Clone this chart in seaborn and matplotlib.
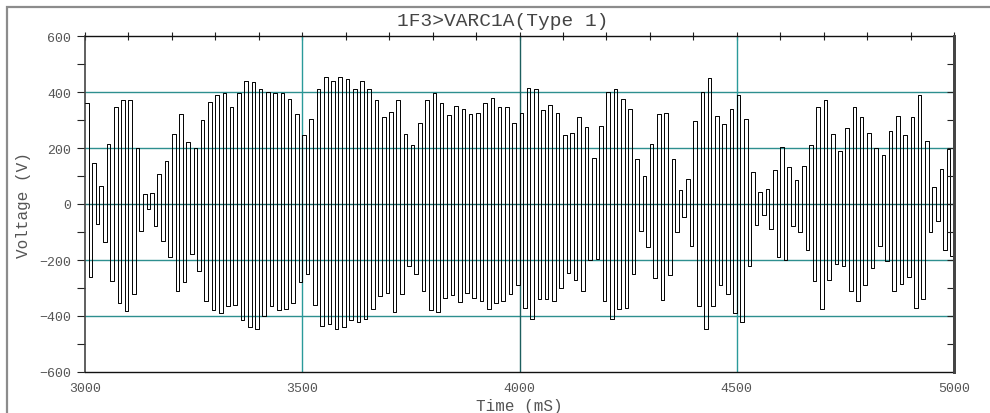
import numpy as np
import pandas as pd
import matplotlib
matplotlib.use("Agg")
import matplotlib.pyplot as plt
from matplotlib.patches import Rectangle
import seaborn as sns

# positive half-cycle levels (V), one per cycle, 3000 -> 5000 ms
tops = [360, 146, 65, 214, 345, 370, 370, 200, 36, 40,
        107, 152, 250, 320, 220, 200, 300, 365, 390, 395,
        345, 395, 440, 435, 410, 400, 395, 395, 375, 320,
        245, 305, 410, 455, 440, 455, 445, 410, 440, 410,
        370, 312, 330, 372, 250, 210, 290, 370, 395, 360,
        318, 350, 340, 322, 325, 360, 380, 345, 345, 290,
        325, 415, 410, 335, 355, 325, 245, 252, 310, 275,
        165, 280, 400, 410, 375, 340, 160, 100, 215, 320,
        325, 160, 50, 90, 295, 400, 450, 315, 285, 340,
        390, 305, 115, 42, 52, 120, 203, 133, 87, 135,
        210, 345, 370, 250, 190, 270, 345, 310, 255, 200,
        175, 260, 315, 245, 310, 390, 225, 60, 125, 195]

# negative half-cycle levels (V)
bottoms = [-262, -71, -134, -276, -355, -381, -320, -95, -18, -78,
           -131, -188, -310, -280, -180, -240, -345, -378, -390, -365,
           -360, -413, -440, -445, -400, -365, -380, -375, -355, -280,
           -250, -360, -435, -430, -445, -440, -415, -420, -410, -375,
           -330, -318, -385, -320, -220, -250, -312, -380, -385, -335,
           -325, -350, -318, -335, -345, -375, -355, -345, -320, -290,
           -370, -410, -340, -340, -345, -300, -245, -270, -310, -200,
           -195, -345, -410, -375, -370, -250, -95, -155, -265, -342,
           -255, -100, -48, -150, -363, -445, -365, -290, -320, -390,
           -420, -220, -75, -38, -90, -190, -200, -80, -100, -165,
           -275, -375, -270, -215, -220, -310, -345, -290, -230, -150,
           -205, -312, -285, -260, -370, -340, -100, -60, -165, -185]

t_start, t_end = 3000, 5000
x_ticks = [3000, 3500, 4000, 4500, 5000]
y_ticks = [-600, -400, -200, 0, 200, 400, 600]
grid_y = [400, 200, 0, -200, -400]
grid_x = [3500, 4000, 4500]

# build the held waveform: top plateau then bottom plateau each cycle
levels = np.ravel(np.column_stack([tops, bottoms]))
half = (t_end - t_start) / len(levels)
edges = t_start + half * np.arange(len(levels) + 1)
df = pd.DataFrame({
    "t": np.ravel(np.column_stack([edges[:-1], edges[1:]])),
    "v": np.repeat(levels, 2),
})

sns.set_style("white")
plt.rcParams["font.family"] = ["Liberation Mono", "DejaVu Sans Mono"]

fig = plt.figure(figsize=(9.9, 4.14), dpi=100)
ax = fig.add_axes([85 / 990, 41 / 414, 869 / 990, 336 / 414])

# grid lines
for g in grid_y:
    col = "#1f6b6b" if g == 0 else "#2e8f8f"
    ax.axhline(g, color=col, lw=1.0, zorder=1)
for g in grid_x:
    col = "#1d5f5f" if g == 4000 else "#2a9a9a"
    ax.axvline(g, color=col, lw=1.0, zorder=1)

sns.lineplot(data=df, x="t", y="v", ax=ax, color="black", lw=0.7,
             estimator=None, sort=False, zorder=3)

ax.set_xlim(t_start, t_end)
ax.set_ylim(-600, 600)
ax.set_xticks(x_ticks)
ax.set_xticks(np.arange(3100, 5000, 100), minor=True)
ax.set_yticks(y_ticks)
ax.set_yticks(np.arange(-500, 600, 200), minor=True)

ax.tick_params(axis="both", which="both", labelsize=9.5, labelcolor="#555555",
               color="#222222", width=0.8)
ax.tick_params(axis="x", which="both", direction="inout", length=6,
               top=True, pad=4)
ax.tick_params(axis="y", which="both", direction="out", length=6,
               left=True, right=False, pad=4)

ax.set_xlabel("Time (mS)", fontsize=11.5, color="#555555", labelpad=3)
ax.set_ylabel("Voltage (V)", fontsize=11.5, color="#555555", labelpad=6)

for side in ["top", "bottom"]:
    ax.spines[side].set_color("#111111")
    ax.spines[side].set_linewidth(1.0)
ax.spines["left"].set_color("#444444")
ax.spines["left"].set_linewidth(1.2)
ax.spines["right"].set_color("#444444")
ax.spines["right"].set_linewidth(2.0)

# right-hand ticks point inward
ax2 = ax.twinx()
ax2.set_ylim(-600, 600)
ax2.set_yticks(np.arange(-500, 600, 100))
ax2.tick_params(axis="y", direction="in", length=5, width=0.8,
                color="#222222", labelright=False)
for side in ["top", "bottom", "left"]:
    ax2.spines[side].set_visible(False)
ax2.spines["right"].set_color("#444444")
ax2.spines["right"].set_linewidth(2.0)

fig.text(503 / 990, 1 - 22 / 414, "1F3>VARC1A(Type 1)", ha="center",
         va="center", fontsize=14, color="#444444")

# outer frame
fig.patches.append(Rectangle((7 / 990, -0.1), 1.2, 1.1 - 8 / 414, fill=False,
                             edgecolor="#8c8c8c", lw=1.6,
                             transform=fig.transFigure, figure=fig))

fig.savefig("out.png", dpi=100)
